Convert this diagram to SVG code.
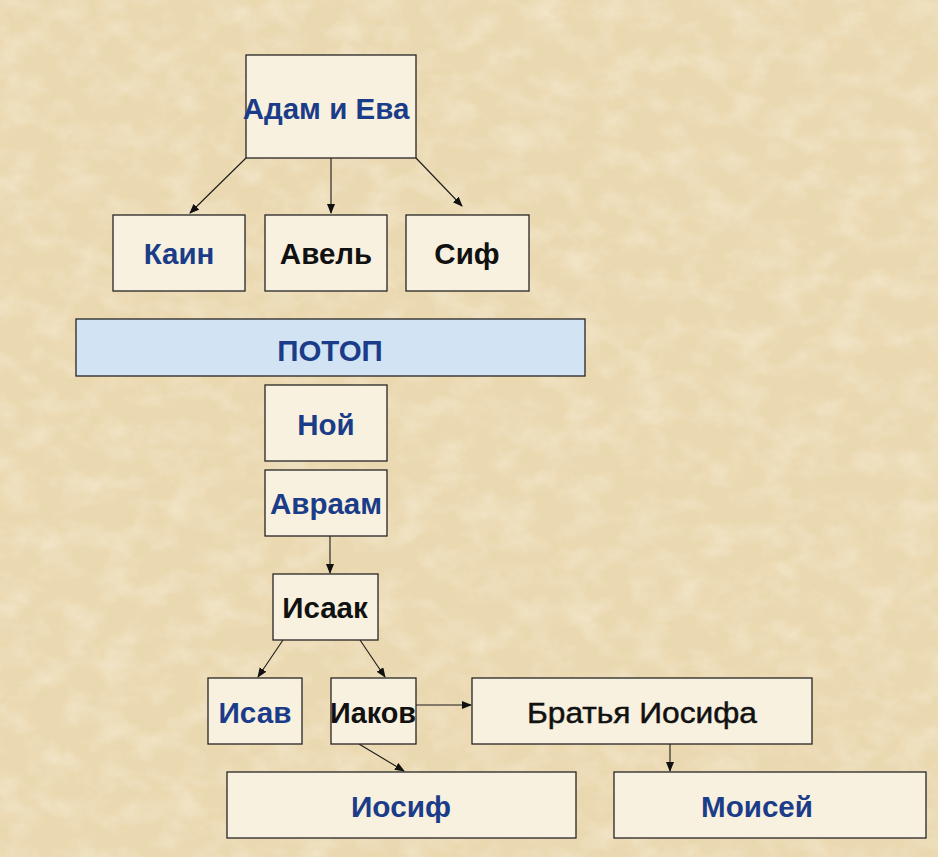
<svg xmlns="http://www.w3.org/2000/svg" width="938" height="857" viewBox="0 0 938 857">
<style>
.box{fill:#f8f1df;stroke:#262626;stroke-width:1.3}
.t{font-family:"Liberation Sans",Arial,sans-serif;font-weight:bold;font-size:29.5px;text-anchor:middle}
.n{font-family:"Liberation Sans",Arial,sans-serif;font-size:30px;text-anchor:middle;stroke:#111;stroke-width:0.5}
.b{fill:#1b3c88}
.k{fill:#111}
.c{stroke:#1a1a1a;stroke-width:1.1;fill:none;marker-end:url(#ah)}
</style>
<defs>
<marker id="ah" markerWidth="10" markerHeight="10" refX="9" refY="4" orient="auto" markerUnits="userSpaceOnUse">
<path d="M0,0 L10,4 L0,8 Z" fill="#111"/>
</marker>
<filter id="paper" x="0" y="0" width="100%" height="100%">
<feTurbulence type="fractalNoise" baseFrequency="0.03 0.04" numOctaves="4" seed="7" result="n"/>
<feColorMatrix in="n" type="matrix" values="0 0 0 0 0.97  0 0 0 0 0.93  0 0 0 0 0.82  1.4 0 0 0 -0.58" result="light"/>
<feColorMatrix in="n" type="matrix" values="0 0 0 0 0.84  0 0 0 0 0.72  0 0 0 0 0.50  0 -1.4 0 0 0.52" result="dark"/>
<feMerge><feMergeNode in="light"/><feMergeNode in="dark"/></feMerge>
</filter>
</defs>
<rect width="938" height="857" fill="#ead8b0"/>
<rect width="938" height="857" filter="url(#paper)" opacity="0.6"/>

<g id="connectors">
<line class="c" x1="246" y1="158" x2="190" y2="213"/>
<line class="c" x1="331" y1="158" x2="331" y2="213"/>
<line class="c" x1="416" y1="158" x2="462" y2="206"/>
<line class="c" x1="330" y1="536" x2="330" y2="573"/>
<line class="c" x1="283" y1="640" x2="258" y2="677"/>
<line class="c" x1="360" y1="640" x2="385" y2="677"/>
<line class="c" x1="416" y1="705" x2="471" y2="705"/>
<line class="c" x1="359" y1="744" x2="404" y2="771"/>
<line class="c" x1="670" y1="744" x2="670" y2="771"/>
</g>

<g id="adam"><rect class="box" x="246" y="55" width="170" height="103"/><text class="t b" x="326" y="119">Адам и Ева</text></g>
<g id="kain"><rect class="box" x="113" y="215" width="132" height="76"/><text class="t b" x="179" y="264">Каин</text></g>
<g id="avel"><rect class="box" x="265" y="215" width="122" height="76"/><text class="t k" x="326" y="264">Авель</text></g>
<g id="sif"><rect class="box" x="406" y="215" width="123" height="76"/><text class="t k" x="467" y="264">Сиф</text></g>
<g id="potop"><rect x="76" y="319" width="509" height="57" fill="#d2e4f4" stroke="#262626" stroke-width="1.3"/><text class="t b" x="330" y="361">ПОТОП</text></g>
<g id="noy"><rect class="box" x="265" y="385" width="122" height="76"/><text class="t b" x="326" y="435">Ной</text></g>
<g id="avraam"><rect class="box" x="265" y="470" width="122" height="66"/><text class="t b" x="326" y="514">Авраам</text></g>
<g id="isaak"><rect class="box" x="273" y="574" width="105" height="66"/><text class="t k" x="325" y="618">Исаак</text></g>
<g id="isav"><rect class="box" x="208" y="678" width="94" height="66"/><text class="t b" x="255" y="723" textLength="73" lengthAdjust="spacingAndGlyphs">Исав</text></g>
<g id="iakov"><rect class="box" x="331" y="678" width="85" height="66"/><text class="t k" x="373" y="723" textLength="86" lengthAdjust="spacingAndGlyphs">Иаков</text></g>
<g id="bratya"><rect class="box" x="472" y="678" width="340" height="66"/><text class="n k" x="642" y="723" textLength="230" lengthAdjust="spacingAndGlyphs">Братья Иосифа</text></g>
<g id="iosif"><rect class="box" x="227" y="772" width="349" height="66"/><text class="t b" x="401" y="817" textLength="100" lengthAdjust="spacingAndGlyphs">Иосиф</text></g>
<g id="moisey"><rect class="box" x="614" y="772" width="312" height="66"/><text class="t b" x="757" y="817" textLength="112" lengthAdjust="spacingAndGlyphs">Моисей</text></g>
</svg>
